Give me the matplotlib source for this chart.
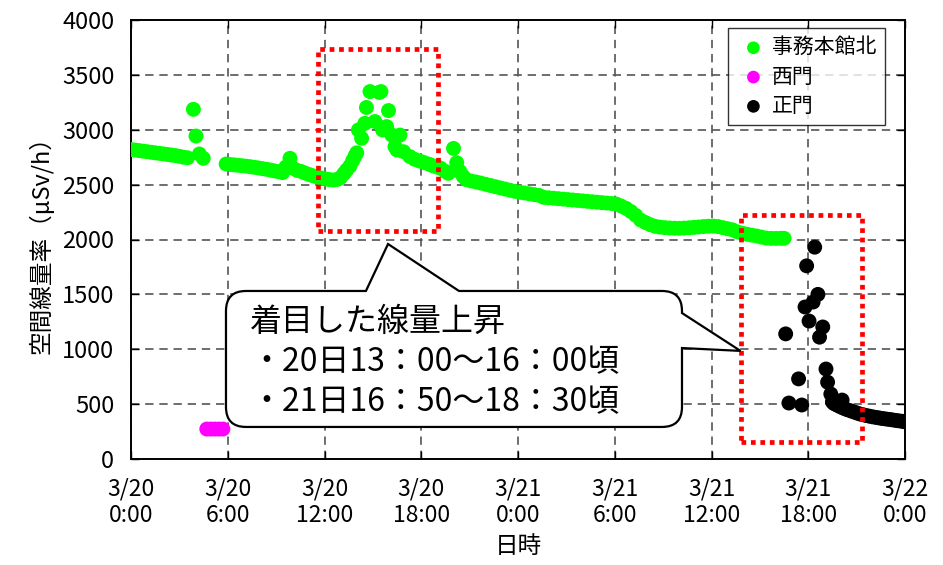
import numpy as np
import matplotlib
matplotlib.use('Agg')
import matplotlib.pyplot as plt
from matplotlib.path import Path
from matplotlib.patches import PathPatch, Rectangle
from matplotlib.transforms import IdentityTransform

plt.rcParams['font.family'] = ['Noto Sans CJK JP', 'DejaVu Sans']

# elapsed hours from 3/20 0:00, dose rate in uSv/h
kita_t = [0.0, 0.25, 0.5, 0.75, 1.0, 1.25, 1.5, 1.75, 2.0, 2.25, 2.5, 2.75, 3.0, 3.25, 3.5,
          3.87, 4.03, 4.24, 4.48,
          5.9, 6.15, 6.4, 6.65, 6.9, 7.15, 7.4, 7.65, 7.9, 8.15, 8.4, 8.65, 8.9, 9.15, 9.4,
          9.6, 9.86, 10.05, 10.3, 10.55, 10.8, 11.05, 11.3, 11.55, 11.8, 12.05, 12.3, 12.55, 12.8,
          13.0, 13.2, 13.37, 13.58, 13.75, 13.89, 14.0, 14.1, 14.3, 14.5, 14.6, 14.82, 15.13,
          15.4, 15.5, 15.6, 15.85, 15.97, 16.17, 16.37, 16.5, 16.68, 16.9, 17.3, 17.6, 17.9,
          18.2, 18.5, 18.75, 19.0, 19.2, 19.5, 19.68, 20.0, 20.2, 20.4, 20.6, 20.8,
          21.1, 21.4, 21.7, 22.0, 22.3, 22.6, 22.9, 23.2, 23.5, 23.8, 24.1, 24.4, 24.7, 25.0,
          25.3, 25.6, 25.9, 26.2, 26.5, 26.8, 27.1, 27.4, 27.7, 28.0, 28.3, 28.6, 28.9, 29.2,
          29.5, 29.8, 30.1, 30.4, 30.7, 31.0, 31.3, 31.6, 31.9, 32.2, 32.5, 32.8, 33.1, 33.4,
          33.7, 34.0, 34.3, 34.6, 34.9, 35.2, 35.5, 35.8, 36.1, 36.4, 36.7, 37.0, 37.3, 37.6,
          37.9, 38.2, 38.5, 38.8, 39.1, 39.4, 39.7, 40.0, 40.3, 40.5]
kita_v = [2820, 2815, 2810, 2805, 2800, 2795, 2790, 2785, 2780, 2775, 2770, 2765, 2758, 2750, 2745,
          3186, 2943, 2779, 2740,
          2688, 2683, 2680, 2676, 2672, 2668, 2663, 2658, 2652, 2646, 2640, 2633, 2625, 2618, 2610,
          2660, 2740, 2650, 2630, 2620, 2605, 2592, 2580, 2570, 2560, 2552, 2546, 2542, 2548,
          2565, 2600, 2633, 2670, 2720, 2760, 2790, 2998, 2922, 3058, 3203, 3348, 3075,
          3340, 3348, 2998, 3029, 3175, 2952, 2846, 2815, 2952, 2800, 2755, 2730, 2715,
          2700, 2685, 2670, 2660, 2650, 2620, 2603, 2830, 2700, 2620, 2575, 2545,
          2533, 2524, 2514, 2503, 2492, 2481, 2470, 2460, 2449, 2439, 2431, 2424, 2416, 2409,
          2402, 2384, 2380, 2376, 2372, 2368, 2364, 2360, 2356, 2352, 2348, 2344, 2340, 2336,
          2332, 2328, 2323, 2305, 2284, 2255, 2220, 2178, 2155, 2135, 2120, 2113, 2108, 2105,
          2103, 2102, 2104, 2107, 2110, 2114, 2118, 2121, 2122, 2118, 2108, 2098, 2088, 2070,
          2058, 2048, 2040, 2032, 2022, 2013, 2010, 2010, 2011, 2011]

nishi_t = [4.7, 4.95, 5.2, 5.45, 5.7]
nishi_v = [273, 273, 273, 273, 273]

sei_t = [40.6, 40.8, 41.4, 41.6, 41.8, 41.9, 42.05, 42.3, 42.4, 42.6, 42.7, 42.9, 43.1, 43.2,
         43.4, 43.5, 43.7, 44.1, 43.6, 43.8, 44.0, 44.2, 44.4, 44.6, 44.8, 45.0, 45.2, 45.4,
         45.6, 45.8, 46.0, 46.2, 46.4, 46.6, 46.8, 47.0, 47.2, 47.4, 47.6, 47.8, 47.95]
sei_v = [1140, 510, 730, 492, 1385, 1760, 1257, 1430, 1930, 1500, 1110, 1203, 820, 700,
         592, 520, 500, 537, 505, 490, 475, 462, 450, 440, 430, 420, 410, 403,
         396, 390, 384, 379, 374, 369, 365, 361, 357, 352, 348, 344, 340]

xticks = [0, 6, 12, 18, 24, 30, 36, 42, 48]
xlabels = ['3/20\n0:00', '3/20\n6:00', '3/20\n12:00', '3/20\n18:00', '3/21\n0:00',
           '3/21\n6:00', '3/21\n12:00', '3/21\n18:00', '3/22\n0:00']
yticks = [0, 500, 1000, 1500, 2000, 2500, 3000, 3500, 4000]

# highlighted periods (x0, x1, y0, y1)
boxes = [(11.6, 19.05, 2077, 3736), (37.83, 45.33, 155, 2223)]

note = '着目した線量上昇\n・20日13：00～16：00頃\n・21日16：50～18：30頃'

fig = plt.figure(figsize=(9.43, 5.65), dpi=100)
ax = fig.add_axes([131/943, 106/565, 774/943, 439/565])
ax.set_xlim(0, 48)
ax.set_ylim(0, 4000)

ax.grid(True, color='#555555', linestyle=(0, (5, 3.5)), linewidth=1.2)
ax.set_axisbelow(True)

ms = 115
ax.scatter(kita_t, kita_v, s=ms, c='#00ff00', edgecolors='none', label='事務本館北', zorder=3)
ax.scatter(nishi_t, nishi_v, s=ms, c='#ff00ff', edgecolors='none', label='西門', zorder=3)
ax.scatter(sei_t, sei_v, s=ms, c='black', edgecolors='none', label='正門', zorder=3)

for x0, x1, y0, y1 in boxes:
    ax.add_patch(Rectangle((x0, y0), x1 - x0, y1 - y0, fill=False, edgecolor='red',
                           linewidth=3.4, linestyle=(0, (1, 1)), zorder=5))

ax.set_xticks(xticks)
ax.set_xticklabels(xlabels, fontsize=16.5)
for t in ax.get_xticklabels():
    t.set_linespacing(1.2)
ax.set_yticks(yticks)
ax.tick_params(axis='y', labelsize=17, pad=12)
ax.tick_params(axis='x', pad=13)
ax.tick_params(direction='in', length=6, width=1, top=True, right=True)
for sp in ax.spines.values():
    sp.set_linewidth(1.4)

ax.set_ylabel('空間線量率（μSv/h）', fontsize=17, labelpad=6)
ax.set_xlabel('日時', fontsize=17, labelpad=6)

leg = ax.legend(loc='upper right', bbox_to_anchor=(0.974, 0.982), borderaxespad=0,
                fontsize=15, frameon=True, fancybox=False, edgecolor='black',
                handletextpad=0.1, labelspacing=0.35, borderpad=0.4, handlelength=1.6,
                markerscale=0.85)
leg.get_frame().set_linewidth(1.0)
leg.set_zorder(6)

# speech-bubble callout, built in display pixels from data anchors
bx0, bx1, by0, by1 = 5.89, 34.17, 292, 1531
tip_top = (15.94, 1959)
base_top = (14.57, 20.34)
tip_right = (37.8, 985)
base_right = (1330, 1011)
r = 20

tr = ax.transData.transform
X0, Y0 = tr((bx0, by0))
X1, Y1 = tr((bx1, by1))
ta = tr(tip_top)
tb = tr(tip_right)
bt0 = tr((base_top[0], by1))[0]
bt1 = tr((base_top[1], by1))[0]
br0 = tr((bx1, base_right[0]))[1]
br1 = tr((bx1, base_right[1]))[1]

verts = [(X0 + r, Y1), (bt0, Y1), tuple(ta), (bt1, Y1), (X1 - r, Y1),
         (X1, Y1), (X1, Y1 - r), (X1, br0), tuple(tb), (X1, br1), (X1, Y0 + r),
         (X1, Y0), (X1 - r, Y0), (X0 + r, Y0), (X0, Y0), (X0, Y0 + r),
         (X0, Y1 - r), (X0, Y1), (X0 + r, Y1)]
codes = [Path.MOVETO, Path.LINETO, Path.LINETO, Path.LINETO, Path.LINETO,
         Path.CURVE3, Path.CURVE3, Path.LINETO, Path.LINETO, Path.LINETO, Path.LINETO,
         Path.CURVE3, Path.CURVE3, Path.LINETO, Path.CURVE3, Path.CURVE3,
         Path.LINETO, Path.CURVE3, Path.CURVE3]
bubble = PathPatch(Path(verts, codes), facecolor='white', edgecolor='black',
                   linewidth=1.6, transform=IdentityTransform(), zorder=7, clip_on=False)
ax.add_patch(bubble)

ax.text(7.4, 884, note, fontsize=23, ha='left', va='center', linespacing=1.32, zorder=8)

fig.savefig('out.png', dpi=100)
